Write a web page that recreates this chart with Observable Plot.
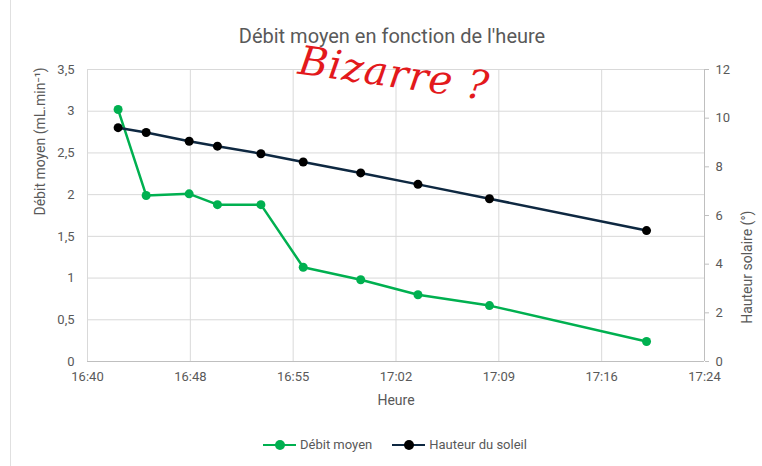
<!DOCTYPE html>
<html><head><meta charset="utf-8">
<script src="https://cdn.jsdelivr.net/npm/d3@7"></script>
<script src="https://cdn.jsdelivr.net/npm/@observablehq/plot@0.6"></script>
<style>
body{margin:0;background:#fff;}
#wrap{position:relative;width:762px;height:466px;overflow:hidden;font-family:Roboto,"Open Sans",sans-serif;color:#595959;}
#wrap svg{position:absolute;left:0;top:0;}
.title{position:absolute;left:0;width:784px;top:24px;text-align:center;font-size:20px;color:#595959;}
.legend{position:absolute;top:437px;left:263px;font-size:13px;display:flex;align-items:center;gap:20px;}
.legend span.item{display:flex;align-items:center;gap:4px;}
.swatch{position:relative;width:33px;height:10px;}
.swatch i{position:absolute;left:0;right:0;top:4px;height:2.5px;}
.swatch b{position:absolute;left:12px;top:0;width:10px;height:10px;border-radius:50%;}
.note{position:absolute;left:298px;top:50px;font-size:40px;color:#e3191c;font-style:italic;font-family:"DejaVu Serif",serif;transform:rotate(8deg);letter-spacing:1px;}
.border{position:absolute;left:10px;top:0;bottom:0;border-left:1px solid #e0e0e0;}
</style></head><body>
<div id="wrap"></div>
<script>
// ---- Data ----
const heures = ["16:42:11","16:44:11","16:47:15","16:49:16","16:52:22","16:55:23","16:59:29","17:03:34","17:08:40","17:19:52"];
const debitMoyen = [3.02,1.99,2.01,1.88,1.88,1.13,0.98,0.80,0.67,0.24];
const hauteurSoleil = [9.61,9.41,9.05,8.85,8.54,8.20,7.75,7.28,6.69,5.38];
const xTickLabels = ["16:40","16:48","16:55","17:02","17:09","17:16","17:24"];
const yLeftTicks = [0,0.5,1,1.5,2,2.5,3,3.5];
const yRightTicks = [0,2,4,6,8,10,12];
const seriesNames = ["Débit moyen","Hauteur du soleil"];
const colors = ["#00b050","#0e2841"];

// ---- Build ----
const toMin = s => { const p = s.split(":").map(Number); return p[0]*60 + p[1] + (p[2]||0)/60; };
const x0 = toMin(xTickLabels[0]), x1 = toMin(xTickLabels[xTickLabels.length-1]);
const xTicks = xTickLabels.map((_,i) => x0 + (x1-x0)*i/(xTickLabels.length-1));
const yMax = yLeftTicks[yLeftTicks.length-1], rMax = yRightTicks[yRightTicks.length-1];
const ratio = yMax / rMax;
const d1 = heures.map((h,i) => ({t: toMin(h), v: debitMoyen[i]}));
const d2 = heures.map((h,i) => ({t: toMin(h), v: hauteurSoleil[i]*ratio}));
const fmt = d => String(d).replace(".", ",");
const xFmt = d => xTickLabels[xTicks.findIndex(t => Math.abs(t-d) < 1e-6)];

const chart = Plot.plot({
  width: 762, height: 466,
  marginTop: 69, marginBottom: 105, marginLeft: 87, marginRight: 58,
  x: {domain: [x0, x1]},
  y: {domain: [0, yMax]},
  style: {fontFamily: "Roboto, 'Open Sans', sans-serif", fontSize: "13px", color: "#595959", background: "transparent"},
  marks: [
    Plot.gridY(yLeftTicks, {stroke: "#d9d9d9", strokeOpacity: 1}),
    Plot.gridX(xTicks, {stroke: "#d9d9d9", strokeOpacity: 1}),
    Plot.ruleY([0], {stroke: "#bfbfbf"}),
    Plot.ruleX([x1], {stroke: "#bfbfbf"}),
    Plot.axisY(yLeftTicks, {anchor: "left", tickSize: 0, tickPadding: 13, tickFormat: fmt, label: null}),
    Plot.axisY(yRightTicks.map(d => d*ratio), {anchor: "right", tickSize: 4, tickPadding: 7, stroke: "#bfbfbf", tickFormat: d => fmt(Math.round(d/ratio)), label: null}),
    Plot.axisX(xTicks, {anchor: "bottom", tickSize: 0, tickPadding: 10, tickFormat: xFmt, label: null}),
    Plot.text(["Heure"], {frameAnchor: "bottom", dy: 43, fontSize: 14, fill: "#595959"}),
    Plot.text(["Débit moyen (mL.min⁻¹)"], {frameAnchor: "left", dx: -47, rotate: -90, fontSize: 14, fill: "#595959"}),
    Plot.text(["Hauteur solaire (°)"], {frameAnchor: "right", dx: 43, dy: -5, rotate: -90, fontSize: 14, fill: "#595959"}),
    Plot.line(d1, {x: "t", y: "v", stroke: colors[0], strokeWidth: 2.5}),
    Plot.dot(d1, {x: "t", y: "v", fill: colors[0], r: 4.5}),
    Plot.line(d2, {x: "t", y: "v", stroke: colors[1], strokeWidth: 2.5}),
    Plot.dot(d2, {x: "t", y: "v", fill: "#000", r: 4.5})
  ]
});

const wrap = document.getElementById("wrap");
wrap.innerHTML = `<div class="border"></div>`;
wrap.appendChild(chart);
const title = document.createElement("div");
title.className = "title";
title.textContent = "Débit moyen en fonction de l'heure";
wrap.appendChild(title);
const legend = document.createElement("div");
legend.className = "legend";
legend.innerHTML = seriesNames.map((n,i) =>
  `<span class="item"><span class="swatch"><i style="background:${colors[i]}"></i><b style="background:${i ? '#000' : colors[i]}"></b></span>${n}</span>`).join("");
wrap.appendChild(legend);
const note = document.createElement("div");
note.className = "note";
note.textContent = "Bizarre ?";
wrap.appendChild(note);
</script>
</body></html>
